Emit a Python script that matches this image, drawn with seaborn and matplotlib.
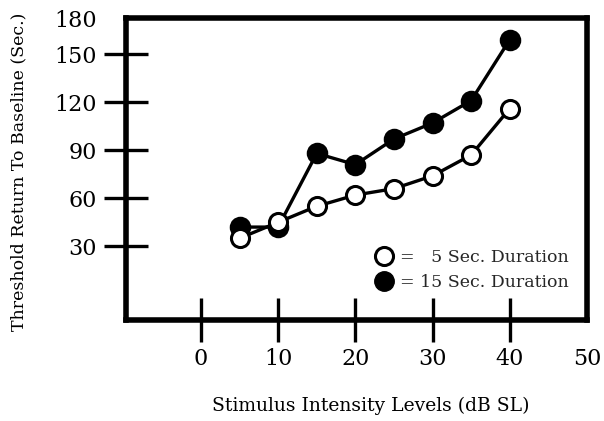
import matplotlib
matplotlib.use("Agg")
import matplotlib.pyplot as plt
from matplotlib.lines import Line2D
import pandas as pd
import seaborn as sns

# data
intensity = [5, 10, 15, 20, 25, 30, 35, 40]
dur_5s = [35, 45, 55, 62, 66, 74, 87, 116]
dur_15s = [42, 42, 88, 81, 97, 107, 121, 159]

x_ticks = [0, 10, 20, 30, 40, 50]
y_ticks = [30, 60, 90, 120, 150]
y_top_label = "180"

sns.set_theme(style="white")
plt.rcParams["font.family"] = ["DejaVu Serif", "DejaVu Sans"]

df5 = pd.DataFrame({"x": intensity, "y": dur_5s})
df15 = pd.DataFrame({"x": intensity, "y": dur_15s})

fig = plt.figure(figsize=(6.04, 4.21), dpi=100)
ax = fig.add_axes([0.2086, 0.240, 0.7632, 0.717])

sns.lineplot(data=df15, x="x", y="y", ax=ax, color="black", lw=2.4,
             marker="o", markersize=14, markerfacecolor="black",
             markeredgecolor="black", markeredgewidth=1.5)
sns.lineplot(data=df5, x="x", y="y", ax=ax, color="black", lw=2.4,
             marker="o", markersize=13, markerfacecolor="white",
             markeredgecolor="black", markeredgewidth=2.2)

xlim = (-9.7, 50)
ylim = (-16, 172.5)
ax.set_xlim(*xlim)
ax.set_ylim(*ylim)

ax.set_xticks(x_ticks)
ax.set_xticklabels([str(t) for t in x_ticks])
ax.set_yticks(y_ticks + [ylim[1]])
ax.set_yticklabels([str(t) for t in y_ticks] + [y_top_label])

ax.tick_params(axis="both", bottom=True, left=True, direction="inout",
               length=32, width=2.4, color="black", labelsize=16,
               labelcolor="black")
ax.tick_params(axis="y", pad=5)
ax.tick_params(axis="x", pad=4)
# the last labels sit on the frame itself, no tick mark
ax.xaxis.get_major_ticks()[-1].tick1line.set_visible(False)
ax.yaxis.get_major_ticks()[-1].tick1line.set_visible(False)

for side in ["left", "right", "top", "bottom"]:
    ax.spines[side].set_visible(True)
    ax.spines[side].set_linewidth(4)
    ax.spines[side].set_color("black")

ax.set_xlabel("Stimulus Intensity Levels (dB SL)", fontsize=13.5, color="black")
ax.set_ylabel("Threshold Return To Baseline (Sec.)", fontsize=12.5, color="black")
ax.xaxis.set_label_coords(0.53, -0.255)
ax.yaxis.set_label_coords(-0.215, 0.49)

handles = [
    Line2D([], [], ls="none", marker="o", markersize=13, markerfacecolor="white",
           markeredgecolor="black", markeredgewidth=2.2),
    Line2D([], [], ls="none", marker="o", markersize=14, markerfacecolor="black",
           markeredgecolor="black"),
]
ax.legend(handles, ["=   5 Sec. Duration", "= 15 Sec. Duration"],
          loc="lower right", bbox_to_anchor=(0.96, 0.095), frameon=False,
          fontsize=12.5, handlelength=0.8, handletextpad=0.5,
          labelspacing=0.45, borderpad=0, borderaxespad=0)

fig.savefig("out.png", dpi=100)
plt.close(fig)
